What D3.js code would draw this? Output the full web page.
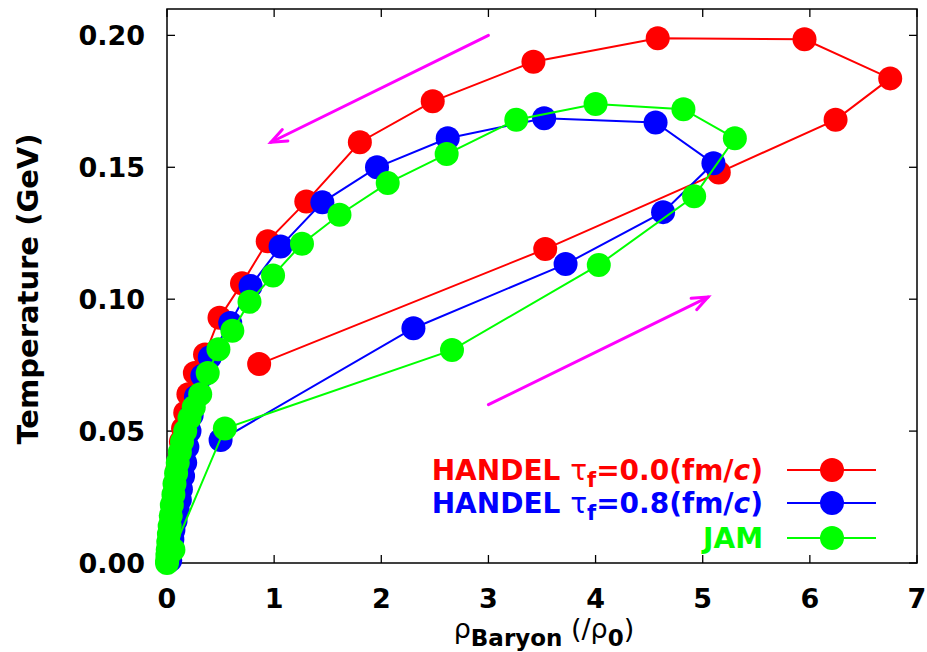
<!DOCTYPE html>
<html><head><meta charset="utf-8">
<script src="https://cdn.jsdelivr.net/npm/d3@7"></script>
<style>
body{margin:0;background:#fff;}
svg{display:block;}
text{font-family:"DejaVu Sans",sans-serif;font-weight:bold;}
</style></head>
<body>
<svg id="chart" width="927" height="652"></svg>
<script>
// ---- data ----
const xTicks = [0,1,2,3,4,5,6,7];
const yTicks = [0.00,0.05,0.10,0.15,0.20];
const yTickLabels = ["0.00","0.05","0.10","0.15","0.20"];

const redX = [0.86,3.53,5.15,6.24,6.75,5.95,4.58,3.42,2.48,1.80,1.30,0.94,0.70,0.49,0.355,0.26,0.20,0.17,0.15,0.13,0.12,0.10,0.09,0.08,0.07,0.06,0.05,0.04,0.03,0.02,0.01];
const redY = [0.0754,0.119,0.148,0.168,0.1837,0.1985,0.1989,0.190,0.175,0.1595,0.137,0.122,0.106,0.093,0.079,0.072,0.064,0.057,0.051,0.046,0.041,0.036,0.031,0.027,0.023,0.019,0.015,0.011,0.007,0.004,0.001];

const blueX = [0.50,2.30,3.72,4.63,5.10,4.56,3.52,2.62,1.96,1.45,1.06,0.78,0.59,0.40,0.33,0.27,0.23,0.21,0.19,0.17,0.15,0.13,0.12,0.10,0.08,0.06,0.05,0.04,0.03,0.03];
const blueY = [0.0466,0.089,0.1133,0.133,0.1515,0.167,0.1686,0.161,0.150,0.1367,0.120,0.105,0.091,0.078,0.071,0.063,0.056,0.050,0.044,0.038,0.033,0.028,0.024,0.020,0.016,0.0125,0.009,0.006,0.003,0.001];

const greenX = [0.06,0.54,2.66,4.03,4.92,5.30,4.82,4.00,3.26,2.61,2.06,1.61,1.26,0.99,0.77,0.61,0.48,0.38,0.31,0.25,0.21,0.17,0.14,0.12,0.10,0.085,0.07,0.06,0.045,0.035,0.025,0.018,0.012,0.007,0.004,0.002,0.0];
const greenY = [0.005,0.051,0.0807,0.113,0.139,0.161,0.172,0.174,0.168,0.155,0.144,0.132,0.121,0.109,0.099,0.088,0.081,0.072,0.064,0.059,0.055,0.050,0.046,0.042,0.038,0.034,0.030,0.026,0.022,0.018,0.014,0.011,0.008,0.005,0.003,0.001,0.0];

const seriesNames = ["HANDEL", "HANDEL", "JAM"];
const seriesTau = ["0.0", "0.8", null];
const seriesColors = ["#ff0000","#0000ff","#00ff00"];

// arrows [x1,y1,x2,y2] in data units
const arrowDown = [3.0,0.200,0.97,0.1595];
const arrowUp = [3.0,0.060,5.05,0.1008];

// ---- layout ----
const L=167, R=917, T=9, B=563;
const x = d3.scaleLinear().domain([0,7]).range([L,R]);
const y = d3.scaleLinear().domain([0,0.21]).range([B,T]);
const svg = d3.select("#chart");
const FS = 27;

// frame
svg.append("rect").attr("x",L).attr("y",T).attr("width",R-L).attr("height",B-T)
  .attr("fill","none").attr("stroke","#000").attr("stroke-width",1.5);

// ticks (inward, mirrored)
const tl = 8;
const gt = svg.append("g").attr("stroke","#000").attr("stroke-width",1.3);
xTicks.forEach(t=>{
  gt.append("line").attr("x1",x(t)).attr("x2",x(t)).attr("y1",B).attr("y2",B-tl);
  gt.append("line").attr("x1",x(t)).attr("x2",x(t)).attr("y1",T).attr("y2",T+tl);
});
yTicks.forEach(t=>{
  gt.append("line").attr("x1",L).attr("x2",L+tl).attr("y1",y(t)).attr("y2",y(t));
  gt.append("line").attr("x1",R).attr("x2",R-tl).attr("y1",y(t)).attr("y2",y(t));
});
// tick labels
xTicks.forEach(t=>{
  svg.append("text").attr("x",x(t)).attr("y",B+45).attr("text-anchor","middle")
    .attr("font-size",FS).text(String(t));
});
yTicks.forEach((t,i)=>{
  svg.append("text").attr("x",145).attr("y",y(t)+10).attr("text-anchor","end")
    .attr("font-size",FS).text(yTickLabels[i]);
});

// axis titles
svg.append("text").attr("transform","translate(38,289) rotate(-90)")
  .attr("text-anchor","middle").attr("font-size",29).text("Temperature (GeV)");
const xl = svg.append("text").attr("x",544).attr("y",638).attr("text-anchor","middle").attr("font-size",FS);
xl.append("tspan").attr("font-weight","normal").text("ρ");
xl.append("tspan").attr("dy",8).attr("font-size",23).text("Baryon");
xl.append("tspan").attr("dy",-8).attr("font-weight","normal").text(" (/");
xl.append("tspan").attr("font-weight","normal").text("ρ");
xl.append("tspan").attr("dy",8).attr("font-size",23).text("0");
xl.append("tspan").attr("dy",-8).attr("font-weight","normal").text(")");

// arrows
function arrow(a){
  const x1=x(a[0]),y1=y(a[1]),x2=x(a[2]),y2=y(a[3]);
  const ang=Math.atan2(y2-y1,x2-x1), hl=17, ha=0.38;
  const g=svg.append("g").attr("stroke","#ff00ff").attr("stroke-width",3).attr("fill","none").attr("stroke-linecap","round");
  g.append("line").attr("x1",x1).attr("y1",y1).attr("x2",x2).attr("y2",y2);
  g.append("path").attr("d",`M${x2-hl*Math.cos(ang-ha)},${y2-hl*Math.sin(ang-ha)} L${x2},${y2} L${x2-hl*Math.cos(ang+ha)},${y2-hl*Math.sin(ang+ha)}`);
}
arrow(arrowDown); arrow(arrowUp);

// series
const series = [[redX,redY],[blueX,blueY],[greenX,greenY]];
const line = d3.line().x(d=>x(d[0])).y(d=>y(d[1]));
const R0=12;
series.forEach((s,i)=>{
  const pts = s[0].map((v,j)=>[v,s[1][j]]);
  svg.append("path").datum(pts).attr("d",line).attr("fill","none")
    .attr("stroke",seriesColors[i]).attr("stroke-width",2);
  svg.append("g").selectAll("circle").data(pts).join("circle")
    .attr("cx",d=>x(d[0])).attr("cy",d=>y(d[1])).attr("r",R0).attr("fill",seriesColors[i]);
});

// legend
const legY=[470,503,538];
seriesColors.forEach((c,i)=>{
  const t = svg.append("text").attr("x",763).attr("y",legY[i]+10).attr("text-anchor","end")
    .attr("font-size",28).attr("fill",c);
  if(seriesTau[i]!==null){
    t.append("tspan").text(seriesNames[i]+" ");
    t.append("tspan").attr("font-weight","normal").text("τ");
    t.append("tspan").attr("dy",7).attr("font-size",21).text("f");
    t.append("tspan").attr("dy",-7).text("="+seriesTau[i]+"(fm/");
    t.append("tspan").attr("font-style","italic").text("c");
    t.append("tspan").text(")");
  } else {
    t.text(seriesNames[i]);
  }
  svg.append("line").attr("x1",787).attr("x2",876).attr("y1",legY[i]).attr("y2",legY[i])
    .attr("stroke",c).attr("stroke-width",2);
  svg.append("circle").attr("cx",832).attr("cy",legY[i]).attr("r",R0).attr("fill",c);
});
</script>
</body></html>
